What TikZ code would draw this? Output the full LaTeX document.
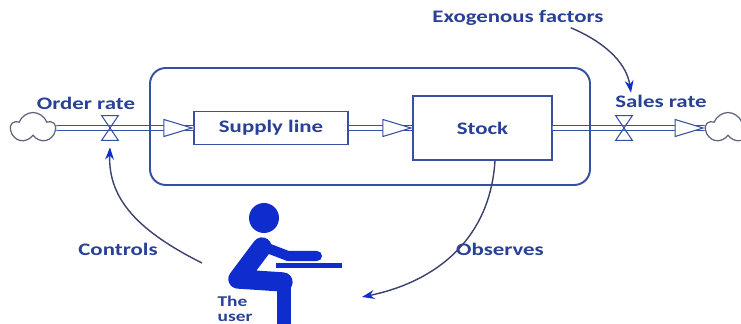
\documentclass[tikz,border=0pt]{standalone}
\usepackage{fontspec}
\setmainfont{Carlito}[FakeStretch=1.3]
\usetikzlibrary{arrows.meta,shapes.geometric,shapes.symbols}
\definecolor{flowblue}{RGB}{55,80,165}
\definecolor{labelblue}{RGB}{40,65,150}
\definecolor{userblue}{RGB}{15,45,205}
\definecolor{linkgray}{RGB}{60,65,110}
\definecolor{puffgray}{RGB}{95,100,120}

\begin{document}
\begin{tikzpicture}[x=0.02cm,y=-0.02cm,font=\fontsize{10}{12}\selectfont\bfseries,
    lbl/.style={text=labelblue, inner sep=1pt},
    level/.style={draw=flowblue, line width=0.8pt, text=labelblue, inner sep=0pt},
    valve/.style={inner sep=0pt, minimum width=0.32cm, minimum height=0.48cm},
    puff/.style={draw=puffgray, line width=0.7pt, cloud, cloud puffs=5, cloud puff arc=140, aspect=1.5, inner sep=0pt, minimum width=0.88cm, minimum height=0.62cm},
    flowtip/.style={draw=flowblue, line width=0.6pt, fill=white, isosceles triangle, isosceles triangle stretches, inner sep=0pt, minimum height=0.56cm, minimum width=0.34cm, anchor=apex},
    pipe/.style={draw=flowblue, line width=0.6pt, double=white, double distance=2pt},
    link/.style={draw=linkgray, line width=0.8pt, -{Stealth[length=7pt, width=5pt, color=userblue]}},
    body/.style={draw=userblue, line width=11pt, line cap=round, line join=round}]
    \fill[white] (0,0) rectangle (741,324);
    \useasboundingbox (0,0) rectangle (741,324);

    \node[level, minimum width=3.08cm, minimum height=0.66cm] (supply) at (271,128) {Supply line};
    \node[level, minimum width=2.78cm, minimum height=1.28cm] (stock) at (482.5,128) {Stock};
    \node[puff] (src) at (33,128) {};
    \node[puff] (sink) at (728,128) {};
    \node[valve] (ordv) at (110,128) {};
    \node[valve] (salv) at (624,128) {};

    \node[lbl] (ordlbl) at (86,103) {Order rate};
    \node[lbl] (sallbl) at (661,101) {Sales rate};
    \node[lbl] (exo) at (518,18) {Exogenous factors};
    \node[lbl] (ctl) at (118,249) {Controls};
    \node[lbl] (obs) at (500,249) {Observes};

    % pipes, then the tips and valves on top
    \draw[pipe] (src.east) -- (supply.west);
    \draw[pipe] (supply.east) -- (stock.west);
    \draw[pipe] (stock.east) -- (sink.west);
    \node[flowtip] (t1) at (supply.west) {};
    \node[flowtip] (t2) at (stock.west) {};
    \node[flowtip] (t3) at (sink.west) {};
    \foreach \v in {ordv,salv}
        \draw[flowblue, line width=0.6pt] (\v.north west) -- (\v.north east) -- (\v.south west) -- (\v.south east) -- cycle;

    \draw[flowblue, line width=1.1pt, rounded corners=9pt] (150,68) rectangle (590,185);

    % the user at the desk
    \fill[userblue] (264,218) circle[radius=15];
    \draw[body] (262,247) -- (238,279) -- (283,282);
    \draw[body, line width=8.5pt] (284,284) -- (284,332);
    \draw[body, line width=5.7pt] (262,246) -- (288,256) -- (317,256);
    \fill[userblue] (276,263) rectangle (342,268);
    \node[lbl, align=left, font=\fontsize{8.5}{8.5}\selectfont\bfseries, inner sep=0pt] (user) at (235,309) {The\\user};

    \coordinate (hand) at (202,263);
    \coordinate (desk) at (362,297);
    \draw[link] (hand) .. controls (140,232) and (108,200) .. ([yshift=-0.14cm]ordv.south);
    \draw[link] ([xshift=0.25cm]stock.south) .. controls (490,240) and (435,282) .. (desk);
    \draw[link] ([xshift=-0.7cm]exo.south east) .. controls (600,40) and (626,60) .. ([xshift=-0.6cm]sallbl.north);
\end{tikzpicture}
\end{document}
